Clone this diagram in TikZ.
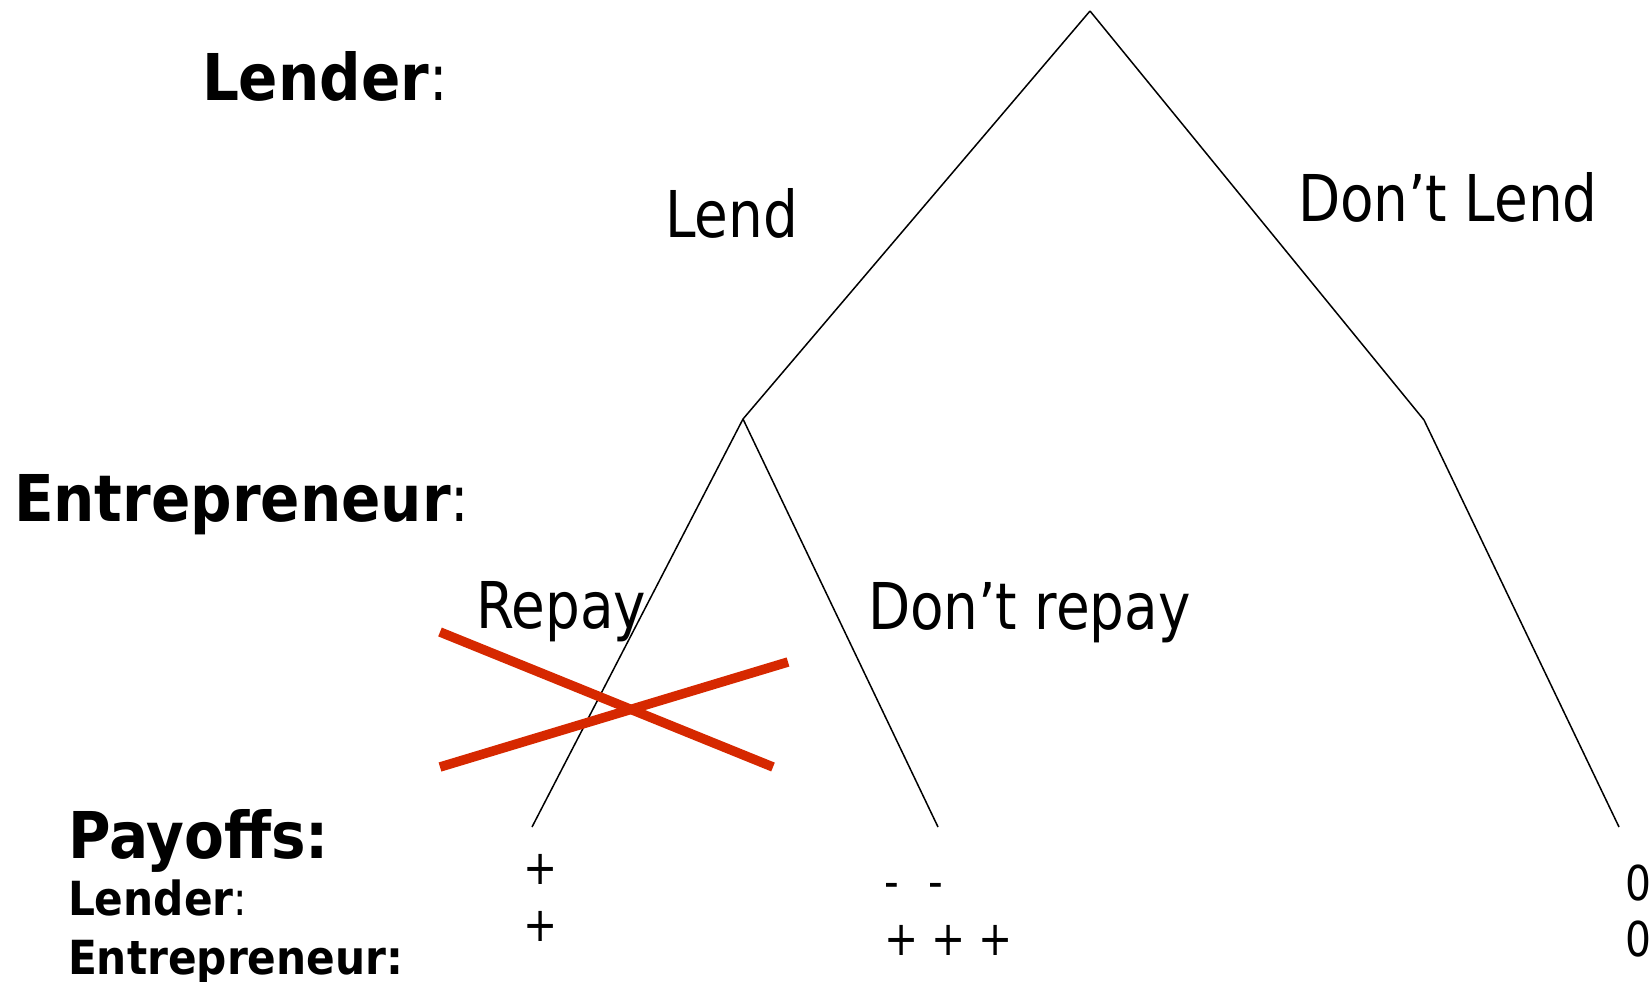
\documentclass[tikz,border=0pt]{standalone}
\usepackage{fontspec}
\setmainfont{DejaVu Sans}[FakeStretch=0.85,BoldFeatures={FakeStretch=0.9}]
\definecolor{crossred}{RGB}{214,40,0}
\begin{document}
\begin{tikzpicture}[x=1pt,y=-1pt,
  txt/.style={anchor=base west,inner sep=0pt,outer sep=0pt},
  big/.style={txt,font=\fontsize{64.5}{70}\selectfont},
  small/.style={txt,font=\fontsize{48}{52}\selectfont},
  branch/.style={draw=black,line width=1.5pt},
  cross/.style={draw=crossred,line width=9.5pt}]
\useasboundingbox (0,0) rectangle (1651,982);
% tree nodes
\coordinate (root) at (1090,11);
\coordinate (ent) at (743,419);
\coordinate (nl) at (1424,420);
\coordinate (leafA) at (532,827);
\coordinate (leafB) at (938,827);
\coordinate (leafC) at (1619,827);
\draw[branch] (root) -- (ent);
\draw[branch] (root) -- (nl);
\draw[branch] (ent) -- (leafA);
\draw[branch] (ent) -- (leafB);
\draw[branch] (nl) -- (leafC);
% player labels
\node[big] (lender) at (202,100) {\textbf{Lender}:};
\node[big] (entre) at (14,521) {\textbf{Entrepreneur}:};
% action labels
\node[big] (lend) at (665,237) {Lend};
\node[big] (dlend) at (1298,221) {Don’t Lend};
\node[big] (repay) at (476,628) {Repay};
\node[big] (drepay) at (868,629) {Don’t repay};
% red cross
\coordinate (x1a) at (440,632);
\coordinate (x1b) at (773,767);
\coordinate (x2a) at (440,767);
\coordinate (x2b) at (788,662);
\draw[cross] (x1a) -- (x1b);
\draw[cross] (x2a) -- (x2b);
% payoffs
\node[big] (pay) at (68,858) {\textbf{Payoffs:}};
\node[small,font=\fontsize{47}{52}\selectfont] (plender) at (68,915) {\textbf{Lender}:};
\node[small,font=\fontsize{47}{52}\selectfont] (pentre) at (68,974) {\textbf{Entrepreneur:}};
\node[small] (pa1) at (523,884) {+};
\node[small] (pa2) at (523,941) {+};
\node[small] (pb1) at (884,898) {-\hspace{30pt}-};
\node[small] (pb2) at (884,955) {+ + +};
\node[small] (pc1) at (1625,900) {0};
\node[small] (pc2) at (1625,956) {0};
\end{tikzpicture}
\end{document}
